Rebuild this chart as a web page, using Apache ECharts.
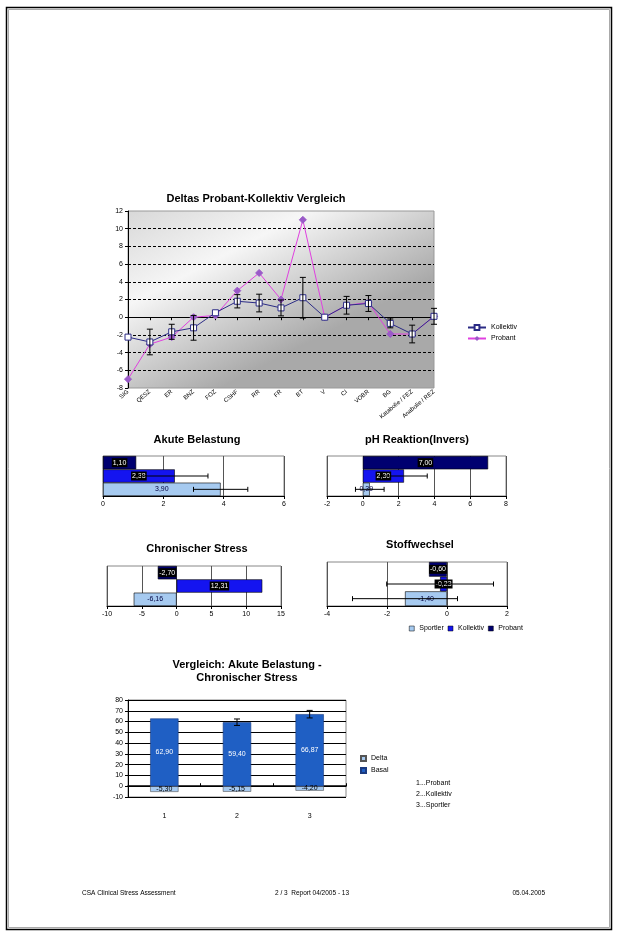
<!DOCTYPE html>
<html>
<head>
<meta charset="utf-8">
<script src="https://cdn.jsdelivr.net/npm/echarts@6/dist/echarts.min.js"></script>
<style>
html,body{margin:0;padding:0;background:#fff;}
#c{width:618px;height:937px;}
</style>
</head>
<body>
<div id="c"></div>
<script>
// ---------- DATA ----------
const lineCats = ['SIG','QESZ','ER','BNZ','FOZ','CSHF','RR','FR','BT','V','CI','VOBR','BG','Katabolie / FEZ','Anabolie / REZ'];
const kollektivDelta = [-2.25, -2.8, -1.65, -1.2, 0.5, 1.8, 1.6, 1.05, 2.2, 0, 1.35, 1.55, -0.7, -1.9, 0.1];
const probantDelta = [-7.0, -3.05, -2.25, 0, 0.2, 3.0, 5.0, 2.0, 11.0, 0, 1.35, 1.65, -1.9, -1.9, 0.1];
const kollektivErr = [0, 1.45, 0.85, 1.4, 0, 0.75, 1.0, 0.9, 2.3, 0, 1.0, 0.9, 0.5, 1.0, 0.9];

const groupNames = ['Sportler', 'Kollektiv', 'Probant'];
const akuteValues = [3.90, 2.38, 1.10];
const akuteErr = [0.9, 1.1, 0];
const phValues = [0.39, 2.30, 7.00];
const phErr = [0.8, 1.3, 0];
const chronValues = [-6.16, 12.31, -2.70];
const chronErr = [0, 0, 0];
const stoffValues = [-1.40, -0.23, -0.60];
const stoffErr = [1.75, 1.78, 0];

const cmpCats = ['1', '2', '3'];
const deltaValues = [-5.30, -5.15, -4.20];
const basalValues = [62.90, 59.40, 66.87];
const basalErr = [0, 3.0, 3.5];
const keyLines = ['1...Probant', '2...Kollektiv', '3...Sportler'];

const footerLeft = 'CSA Clinical Stress Assessment';
const footerMid = '2 / 3  Report 04/2005 - 13';
const footerRight = '05.04.2005';

// ---------- STYLE ----------
const FONT = 'Liberation Sans, Arial, sans-serif';
const barColors = ['#a6caf0', '#1414f0', '#000070'];
const fmt = v => (typeof v === 'number' ? v.toFixed(2).replace('.', ',') : '');

const grids = [], xAxes = [], yAxes = [], series = [], graphics = [];

function vErr(params, api) {
  const v = api.value(1), c = api.value(0), e = api.value(2);
  const p1 = api.coord([c, v - e]), p2 = api.coord([c, v + e]);
  const cap = 3, st = { stroke: '#000', lineWidth: 1 };
  return { type: 'group', children: [
    { type: 'line', shape: { x1: p1[0], y1: p1[1], x2: p2[0], y2: p2[1] }, style: st },
    { type: 'line', shape: { x1: p1[0] - cap, y1: p1[1], x2: p1[0] + cap, y2: p1[1] }, style: st },
    { type: 'line', shape: { x1: p2[0] - cap, y1: p2[1], x2: p2[0] + cap, y2: p2[1] }, style: st }
  ]};
}
function hErr(params, api) {
  const v = api.value(0), c = api.value(1), e = api.value(2);
  const p1 = api.coord([v - e, c]), p2 = api.coord([v + e, c]);
  const cap = 2.5, st = { stroke: '#000', lineWidth: 1 };
  return { type: 'group', children: [
    { type: 'line', shape: { x1: p1[0], y1: p1[1], x2: p2[0], y2: p2[1] }, style: st },
    { type: 'line', shape: { x1: p1[0], y1: p1[1] - cap, x2: p1[0], y2: p1[1] + cap }, style: st },
    { type: 'line', shape: { x1: p2[0], y1: p2[1] - cap, x2: p2[0], y2: p2[1] + cap }, style: st }
  ]};
}

// ---------- LINE CHART (grid 0) ----------
grids.push({ left: 128, top: 211, width: 306, height: 177, show: true, borderColor: '#999', borderWidth: 1,
  backgroundColor: { type: 'linear', x: 0, y: 0, x2: 0.3, y2: 1, colorStops: [
    { offset: 0, color: '#d8d8d8' }, { offset: 0.42, color: '#f6f6f6' }, { offset: 1, color: '#a9a9a9' }] } });
xAxes.push({ type: 'category', gridIndex: 0, data: lineCats, boundaryGap: false,
  axisLine: { onZero: true, lineStyle: { color: '#000', width: 1 } },
  axisTick: { show: true, length: 3, lineStyle: { color: '#000' } },
  axisLabel: { interval: 0, rotate: 40, fontSize: 6, color: '#000', fontFamily: FONT, margin: 3 },
  splitLine: { show: false } });
yAxes.push({ type: 'value', gridIndex: 0, min: -8, max: 12, interval: 2,
  axisLine: { show: true, lineStyle: { color: '#000' } },
  axisTick: { show: true, length: 3, lineStyle: { color: '#000' } },
  axisLabel: { fontSize: 7, color: '#000', fontFamily: FONT, margin: 5 },
  splitLine: { show: true, showMinLine: false, showMaxLine: false, lineStyle: { color: '#000', type: [3, 2], width: 1 } } });
series.push({ type: 'line', name: 'Kollektiv', xAxisIndex: 0, yAxisIndex: 0, data: kollektivDelta,
  symbol: 'rect', symbolSize: 6, lineStyle: { color: '#2b2b85', width: 1 },
  itemStyle: { color: '#ffffff', borderColor: '#2b2b85', borderWidth: 1 }, z: 4 });
series.push({ type: 'line', name: 'Probant', xAxisIndex: 0, yAxisIndex: 0, data: probantDelta,
  symbol: 'diamond', symbolSize: 7, lineStyle: { color: '#e040e0', width: 1 },
  itemStyle: { color: '#9a5ac8', borderColor: '#9a5ac8' }, z: 3 });
series.push({ type: 'custom', name: 'errK', xAxisIndex: 0, yAxisIndex: 0, renderItem: vErr, z: 5,
  encode: { x: 0, y: 1 }, silent: true,
  data: kollektivDelta.map((v, i) => [i, v, kollektivErr[i]]).filter(d => d[2] > 0) });

// ---------- HORIZONTAL PANELS (grids 1-4) ----------
const labelStyles = [
  { color: '#000040' },
  { color: '#fff', backgroundColor: '#000', padding: [1, 1] },
  { color: '#fff', backgroundColor: '#000', padding: [1, 1] }
];
function hPanel(idx, box, values, errs, min, max, interval) {
  grids.push(Object.assign({ show: true, borderColor: '#888', borderWidth: 1, backgroundColor: '#fff' }, box));
  xAxes.push({ type: 'value', gridIndex: idx, min, max, interval,
    axisLine: { show: true, onZero: false, lineStyle: { color: '#000' } },
    axisTick: { show: true, length: 3, lineStyle: { color: '#000' } },
    axisLabel: { fontSize: 7, color: '#000', fontFamily: FONT, margin: 5 },
    splitLine: { show: true, lineStyle: { color: '#555', width: 1 } } });
  yAxes.push({ type: 'category', gridIndex: idx, data: groupNames,
    axisLine: { show: false }, axisTick: { show: false }, axisLabel: { show: false }, splitLine: { show: false } });
  groupNames.forEach((n, i) => {
    series.push({ type: 'bar', name: n, xAxisIndex: idx, yAxisIndex: idx,
      data: groupNames.map((_, j) => (j === i ? values[i] : '-')),
      barGap: '-100%', barCategoryGap: '0%',
      itemStyle: { color: barColors[i], borderColor: '#000', borderWidth: 0.6 },
      label: Object.assign({ show: true, position: 'inside', fontSize: 7, fontFamily: FONT,
        formatter: p => fmt(p.value) }, labelStyles[i]) });
  });
  const ed = values.map((v, i) => [v, i, errs[i]]).filter(d => d[2] > 0);
  series.push({ type: 'custom', name: 'err' + idx, xAxisIndex: idx, yAxisIndex: idx, renderItem: hErr, z: 5,
    encode: { x: 0, y: 1 }, silent: true, data: ed });
}
hPanel(1, { left: 103, top: 456, width: 181, height: 40 }, akuteValues, akuteErr, 0, 6, 2);
hPanel(2, { left: 327, top: 456, width: 179, height: 40 }, phValues, phErr, -2, 8, 2);
hPanel(3, { left: 107, top: 566, width: 174, height: 40 }, chronValues, chronErr, -10, 15, 5);
hPanel(4, { left: 327, top: 562, width: 180, height: 44 }, stoffValues, stoffErr, -4, 2, 2);

// ---------- COMPARISON (grid 5) ----------
grids.push({ left: 128, top: 700, width: 218, height: 97, show: true, borderColor: '#888', borderWidth: 1, backgroundColor: '#fff' });
xAxes.push({ type: 'category', gridIndex: 5, data: cmpCats, position: 'bottom',
  axisLine: { show: false, onZero: false }, axisTick: { show: false },
  axisLabel: { fontSize: 7, color: '#000', fontFamily: FONT, margin: 16 } });
xAxes.push({ type: 'category', gridIndex: 5, data: cmpCats, position: 'top',
  axisLine: { show: true, onZero: true, lineStyle: { color: '#000', width: 1.5 } },
  axisTick: { show: true, length: 3, inside: false, lineStyle: { color: '#000' } },
  axisLabel: { show: false } });
yAxes.push({ type: 'value', gridIndex: 5, min: -10, max: 80, interval: 10,
  axisLine: { show: true, lineStyle: { color: '#000' } },
  axisTick: { show: true, length: 3, lineStyle: { color: '#000' } },
  axisLabel: { fontSize: 7, color: '#000', fontFamily: FONT, margin: 5 },
  splitLine: { show: true, lineStyle: { color: '#000', width: 1 } } });
series.push({ type: 'bar', name: 'Delta', xAxisIndex: 5, yAxisIndex: 5, stack: 'cmp', data: deltaValues,
  barWidth: '39%', itemStyle: { color: '#a6caf0', borderColor: '#555', borderWidth: 0.6 },
  label: { show: true, position: 'inside', fontSize: 7, color: '#000', fontFamily: FONT, formatter: p => fmt(p.value) } });
series.push({ type: 'bar', name: 'Basal', xAxisIndex: 5, yAxisIndex: 5, stack: 'cmp', data: basalValues,
  barWidth: '39%', itemStyle: { color: '#1f5fc4', borderColor: '#1a3a80', borderWidth: 0.6 },
  label: { show: true, position: 'inside', fontSize: 7, color: '#fff', fontFamily: FONT, formatter: p => fmt(p.value) } });
series.push({ type: 'custom', name: 'errB', xAxisIndex: 5, yAxisIndex: 5, renderItem: vErr, z: 5,
  encode: { x: 0, y: 1 }, silent: true,
  data: basalValues.map((v, i) => [i, v, basalErr[i]]).filter(d => d[2] > 0) });

// ---------- TEXTS ----------
function txt(x, y, t, font, align) {
  graphics.push({ type: 'text', x, y, silent: true, z: 10,
    style: { text: t, font, fill: '#000', align: align || 'center', verticalAlign: 'middle',
      textAlign: align || 'center', textVerticalAlign: 'middle' } });
}
const TB = 'bold 11px ' + FONT;
txt(256, 199, 'Deltas Probant-Kollektiv Vergleich', TB);
txt(197, 440, 'Akute Belastung', TB);
txt(417, 440, 'pH Reaktion(Invers)', TB);
txt(197, 549, 'Chronischer Stress', TB);
txt(420, 545, 'Stoffwechsel', TB);
txt(247, 665, 'Vergleich: Akute Belastung -', TB);
txt(247, 678, 'Chronischer Stress', TB);
keyLines.forEach((t, i) => txt(416, 783 + i * 11, t, '7px ' + FONT, 'left'));
txt(82, 893, footerLeft, '6.5px ' + FONT, 'left');
txt(275, 893, footerMid, '6.5px ' + FONT, 'left');
txt(545, 893, footerRight, '6.5px ' + FONT, 'right');
graphics.push({ type: 'rect', silent: true, z: 11, shape: { x: 6.5, y: 7.5, width: 605, height: 922 },
  style: { fill: 'none', stroke: '#000', lineWidth: 1.5 } });
graphics.push({ type: 'rect', silent: true, z: 11, shape: { x: 8.5, y: 9.5, width: 601, height: 918 },
  style: { fill: 'none', stroke: '#aaa', lineWidth: 1 } });

// ---------- CHART ----------
const chart = echarts.init(document.getElementById('c'), null, { renderer: 'canvas' });
chart.setOption({
  animation: false,
  backgroundColor: '#fff',
  textStyle: { fontFamily: FONT },
  grid: grids, xAxis: xAxes, yAxis: yAxes, series,
  legend: [
    { data: ['Kollektiv', 'Probant'], orient: 'vertical', left: 462, top: 319, itemGap: 4,
      itemWidth: 18, itemHeight: 6, textStyle: { fontSize: 7, color: '#000', fontFamily: FONT }, selectedMode: false },
    { data: groupNames.map((n, i) => ({ name: n, icon: 'rect', itemStyle: { color: barColors[i], borderColor: '#000', borderWidth: 0.5 } })),
      orient: 'horizontal', left: 404, top: 620, itemGap: 4, itemWidth: 5, itemHeight: 5,
      textStyle: { fontSize: 7, color: '#000', fontFamily: FONT }, selectedMode: false },
    { data: [{ name: 'Delta', icon: 'rect' }, { name: 'Basal', icon: 'rect' }], orient: 'vertical', left: 355, top: 750,
      itemGap: 5, itemWidth: 5, itemHeight: 5, textStyle: { fontSize: 7, color: '#000', fontFamily: FONT }, selectedMode: false }
  ],
  graphic: graphics
});
</script>
</body>
</html>
